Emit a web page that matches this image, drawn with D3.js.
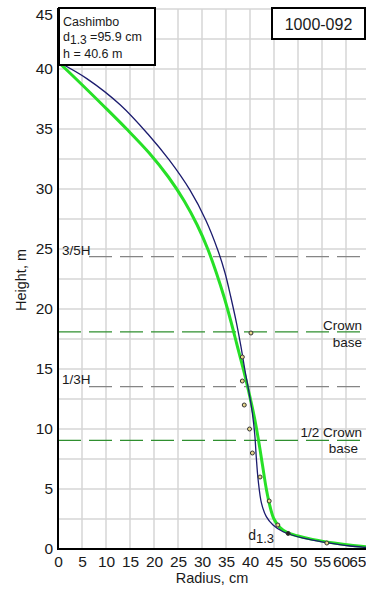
<!DOCTYPE html>
<html>
<head>
<meta charset="utf-8">
<script src="https://cdn.jsdelivr.net/npm/d3@7"></script>
<style>
  html, body { margin: 0; padding: 0; background: #fff; }
  svg { display: block; font-family: "Liberation Sans", Arial, sans-serif; }
</style>
</head>
<body>
<svg id="chart" width="366" height="590"></svg>
<script>
// Tree description
const treeName = "Cashimbo";
const treeId = "1000-092";
const dbh = 95.9;          // diameter at 1.3 m, cm
const treeHeight = 40.6;   // total height, m
const crownBase = 18.1;    // height of crown base, m

// Axis ticks
const radiusTicks = [0, 5, 10, 15, 20, 25, 30, 35, 40, 45, 50, 55, 60, 65];
const heightTicks = [0, 5, 10, 15, 20, 25, 30, 35, 40, 45];

// Fitted taper profile (green)
const fitHeights = [40.6, 39.0, 37.0, 35.0, 33.0, 31.0, 29.0, 27.0, 25.0, 23.0, 21.0, 19.0, 17.0, 15.0, 13.0, 11.0, 9.0, 7.0, 5.0, 3.5, 2.5, 1.8, 1.4, 1.1, 0.8, 0.5, 0.3, 0.15];
const fitRadii   = [0,    4.2,  9.3,  14.3, 19.0, 23.0, 26.3, 29.0, 31.2, 33.0, 34.6, 36.0, 37.3, 38.6, 39.8, 40.9, 41.8, 42.6, 43.4, 44.2, 45.0, 46.2, 47.6, 49.8, 53.0, 57.5, 61.5, 65.5];

// Reference stem profile (blue)
const refHeights = [40.6, 39.2, 37.0, 34.5, 32.4, 29.9, 27.4, 24.9, 23.0, 21.0, 18.8, 16.9, 15.0, 13.5, 11.3, 9.5, 7.7, 5.75, 3.8, 2.7, 2.0, 1.44, 0.9, 0.53, 0.25, 0.14, 0.08];
const refRadii   = [0,    6.0,  13.0, 18.9, 23.2, 27.5, 30.8, 33.3, 34.8, 36.0, 37.2, 38.1, 38.9, 39.6, 40.5, 41.0, 41.3, 41.7, 42.4, 43.4, 44.8, 46.9, 51.1, 56.0, 60.8, 64.2, 66.5];

// Measured stem sections
const sampleHeights = [40.6, 18, 16, 14, 12, 10, 8, 6, 4, 2, 1.3, 0.5];
const sampleRadii   = [0, 40.2, 38.4, 38.4, 38.8, 39.9, 40.5, 42.1, 44.0, 45.8, dbh / 2, 56.0];

const W = 366, H = 590;
const plotLeft = 58, plotRight = 366, plotTop = 9, plotBottom = 549;

const x = d3.scaleLinear().domain([0, (plotRight - plotLeft) / 4.8]).range([plotLeft, plotRight]);
const y = d3.scaleLinear().domain([0, 45]).range([plotBottom, plotTop]);

const svg = d3.select("#chart");

svg.append("defs").append("clipPath").attr("id", "plotClip")
  .append("rect").attr("x", plotLeft).attr("y", plotTop - 2)
  .attr("width", plotRight - plotLeft).attr("height", plotBottom - plotTop + 2);

// Grid
const grid = svg.append("g").attr("stroke", "#d6d6d6").attr("stroke-width", 1.5);
radiusTicks.filter(v => x(v) <= plotRight).forEach(v => {
  grid.append("line").attr("x1", x(v)).attr("x2", x(v)).attr("y1", plotTop).attr("y2", plotBottom);
});
d3.range(0, 45.01, 2.5).forEach(v => {
  grid.append("line").attr("x1", plotLeft).attr("x2", plotRight).attr("y1", y(v)).attr("y2", y(v));
});

// Reference height lines
const guides = [
  { h: treeHeight * 0.6, color: "#858585", start: 31 },
  { h: treeHeight / 3,   color: "#858585", start: 31 },
  { h: crownBase,        color: "#2f8f2f", start: 0 },
  { h: crownBase / 2,    color: "#2f8f2f", start: 0 }
];
guides.forEach(g => {
  svg.append("line")
    .attr("x1", plotLeft + g.start).attr("x2", plotRight)
    .attr("y1", y(g.h)).attr("y2", y(g.h))
    .attr("stroke", g.color).attr("stroke-width", 1.3)
    .attr("stroke-dasharray", "23,8");
});

const lbl = svg.append("g").attr("fill", "#1a1a1a").attr("font-size", 13.5);
lbl.append("text").attr("x", plotLeft + 4).attr("y", y(treeHeight * 0.6) - 2).text("3/5H");
lbl.append("text").attr("x", plotLeft + 4).attr("y", y(treeHeight / 3) - 3).text("1/3H");
lbl.append("text").attr("x", 362).attr("y", y(crownBase) - 2).attr("text-anchor", "end").text("Crown");
lbl.append("text").attr("x", 362).attr("y", y(crownBase) + 15).attr("text-anchor", "end").text("base");
lbl.append("text").attr("x", 362).attr("y", y(crownBase / 2) - 3).attr("text-anchor", "end").text("1/2 Crown");
lbl.append("text").attr("x", 358).attr("y", y(crownBase / 2) + 13).attr("text-anchor", "end").text("base");

// Stem profiles
const plot = svg.append("g").attr("clip-path", "url(#plotClip)");
const line = d3.line().x(d => x(d[1])).y(d => y(d[0])).curve(d3.curveCatmullRom.alpha(0.5));

plot.append("path")
  .attr("d", line(d3.zip(fitHeights, fitRadii)))
  .attr("fill", "none").attr("stroke", "#27e027").attr("stroke-width", 3)
  .attr("stroke-linejoin", "round");

plot.append("path")
  .attr("d", line(d3.zip(refHeights, refRadii)))
  .attr("fill", "none").attr("stroke", "#1b1b6e").attr("stroke-width", 1.3);

// Measured sections
plot.selectAll("circle.sample")
  .data(d3.zip(sampleHeights, sampleRadii))
  .join("circle")
  .attr("class", "sample")
  .attr("cx", d => x(d[1])).attr("cy", d => y(d[0]))
  .attr("r", 2)
  .attr("fill", d => d[0] === 1.3 ? "#222" : "#e6d68a")
  .attr("stroke", "#333").attr("stroke-width", 1);

// d1.3 marker label
const dl = svg.append("text").attr("fill", "#1a1a1a")
  .attr("x", x(dbh / 2) - 40).attr("y", y(1.3) + 7).attr("font-size", 14);
dl.append("tspan").text("d");
dl.append("tspan").attr("font-size", 13).attr("dy", 3).text("1.3");

// Axes
const xAxis = svg.append("g").attr("transform", `translate(0,${plotBottom})`)
  .call(d3.axisBottom(x).tickValues(radiusTicks).tickSize(0).tickPadding(6).tickSizeOuter(0));
xAxis.select(".domain").remove();
xAxis.selectAll("text").attr("font-size", 15.5).attr("fill", "#1a1a1a").attr("font-family", null)
  .attr("y", 7).attr("dy", "0.71em");
// the last labels are squeezed against the right edge
xAxis.selectAll(".tick").filter(d => x(d) + 8 > W).select("text")
  .attr("text-anchor", "end").attr("x", d => W - x(d));
xAxis.selectAll(".tick").filter(d => x(d) + 8 <= W && x(d) + 30 > W).select("text")
  .attr("dx", -5);

const yAxis = svg.append("g").attr("transform", `translate(${plotLeft},0)`)
  .call(d3.axisLeft(y).tickValues(heightTicks).tickSize(0).tickPadding(5).tickSizeOuter(0));
yAxis.select(".domain").remove();
yAxis.selectAll("text").attr("font-size", 15.5).attr("fill", "#1a1a1a").attr("font-family", null);
yAxis.selectAll(".tick").filter(d => y(d) < 15).select("text").attr("y", d => 15 - y(d));

svg.append("line").attr("x1", plotLeft).attr("x2", plotLeft).attr("y1", plotTop - 1).attr("y2", plotBottom + 1)
  .attr("stroke", "#000").attr("stroke-width", 2);
svg.append("line").attr("x1", plotLeft - 1).attr("x2", plotRight).attr("y1", plotBottom).attr("y2", plotBottom)
  .attr("stroke", "#000").attr("stroke-width", 2);

svg.append("text").attr("x", (plotLeft + plotRight) / 2).attr("y", 583)
  .attr("text-anchor", "middle").attr("font-size", 14.5).attr("fill", "#1a1a1a").text("Radius, cm");
svg.append("text").attr("transform", "translate(26,280) rotate(-90)")
  .attr("text-anchor", "middle").attr("font-size", 14.5).attr("fill", "#1a1a1a").text("Height, m");

// Tree info box
svg.append("rect").attr("x", 59).attr("y", 8).attr("width", 96).attr("height", 57)
  .attr("fill", "#fff").attr("stroke", "#000").attr("stroke-width", 2);
const info = svg.append("g").attr("font-size", 12.5).attr("fill", "#1a1a1a");
info.append("text").attr("x", 63).attr("y", 26).text(treeName);
const dt = info.append("text").attr("x", 63).attr("y", 41);
dt.append("tspan").text("d");
dt.append("tspan").attr("dy", 2.5).attr("font-size", 12).text("1.3");
dt.append("tspan").attr("dy", -2.5).text(` =${dbh} cm`);
info.append("text").attr("x", 63).attr("y", 58).text(`h = ${treeHeight} m`);

// Tree id box
svg.append("rect").attr("x", 272).attr("y", 8).attr("width", 93).attr("height", 31)
  .attr("fill", "#fff").attr("stroke", "#000").attr("stroke-width", 2);
svg.append("text").attr("x", 318.5).attr("y", 30).attr("text-anchor", "middle")
  .attr("font-size", 16).attr("fill", "#1a1a1a").text(treeId);
</script>
</body>
</html>
